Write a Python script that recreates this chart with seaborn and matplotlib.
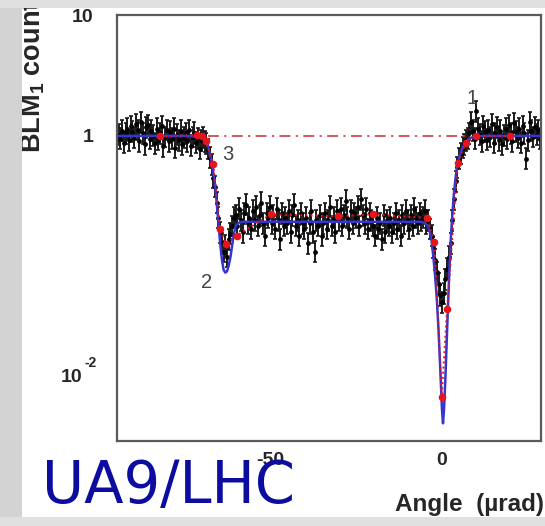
import numpy as np
import pandas as pd
import matplotlib
matplotlib.use("Agg")
import matplotlib.pyplot as plt
from matplotlib.patches import Rectangle
from matplotlib.ticker import NullFormatter
import seaborn as sns

# measured BLM1 counts vs crystal angle (0.5 urad steps from -94 to 29)
angle = np.arange(-94.0, 29.01, 0.5)
counts = [
    1.02, 0.95, 1.10, 0.88, 1.05, 1.15, 0.92, 1.20, 1.08, 0.97,
    1.25, 1.12, 0.90, 1.30, 1.05, 0.85, 1.18, 1.22, 0.95, 1.10,
    1.00, 0.87, 1.15, 0.93, 1.05, 1.20, 0.82, 0.98, 1.12, 0.90,
    1.08, 0.95, 1.15, 0.80, 1.02, 0.92, 1.10, 0.85, 0.97, 1.05,
    0.90, 1.12, 0.83, 0.98, 1.06, 0.88, 0.95, 0.78, 0.92,
    # edge of volume reflection
    0.97, 0.90, 0.86, 0.78, 0.66, 0.58, 0.45, 0.38, 0.28, 0.21,
    0.16, 0.13, 0.11, 0.125, 0.10, 0.14, 0.155, 0.18, 0.21,
    # volume reflection plateau
    0.22, 0.18, 0.25, 0.20, 0.16, 0.23, 0.27, 0.19, 0.21, 0.17,
    0.24, 0.20, 0.26, 0.18, 0.22, 0.28, 0.19, 0.15, 0.23, 0.21,
    0.26, 0.19, 0.22, 0.17, 0.25, 0.20, 0.14, 0.23, 0.18, 0.21,
    0.19, 0.24, 0.16, 0.22, 0.27, 0.18, 0.20, 0.15, 0.23, 0.19,
    0.17, 0.21, 0.13, 0.19, 0.24, 0.16, 0.11, 0.20, 0.18, 0.22,
    0.15, 0.19, 0.23, 0.17, 0.20, 0.26, 0.18, 0.21, 0.16, 0.24,
    0.20, 0.25, 0.18, 0.22, 0.29, 0.21, 0.17, 0.24, 0.19, 0.23,
    0.21, 0.26, 0.18, 0.30, 0.22, 0.19, 0.25, 0.17, 0.23, 0.20,
    0.18, 0.15, 0.21, 0.17, 0.19, 0.14, 0.22, 0.16, 0.20, 0.18,
    0.21, 0.16, 0.19, 0.23, 0.17, 0.20, 0.15, 0.22, 0.19, 0.24,
    0.20, 0.17, 0.22, 0.18, 0.25, 0.21, 0.19, 0.23, 0.20,
    # channeling dip
    0.21, 0.24, 0.19, 0.20, 0.17, 0.15, 0.12, 0.095, 0.075, 0.06,
    0.048, 0.042, 0.05, 0.065, 0.08, 0.10, 0.13, 0.20, 0.30, 0.42,
    0.55, 0.65, 0.72, 0.80, 0.85, 0.92, 0.95, 1.05,
    # amorphous orientation again
    1.30, 1.10, 0.95, 1.60, 1.15, 1.02, 0.90, 1.20, 1.08, 0.93,
    1.12, 0.98, 1.25, 0.88, 1.05, 1.18, 0.92, 1.10, 0.85, 1.00,
    1.15, 0.95, 1.22, 1.05, 0.90, 1.28, 1.08, 0.97, 1.15, 0.88,
    1.20, 1.05, 0.65, 0.92, 1.30, 1.10, 0.98, 1.18, 1.02, 1.12,
    0.95, 1.08,
]
rel_err = 0.22

# fitted curve (blue)
fit_angle = [-94, -75, -72, -70, -69, -68, -67, -66, -65.5, -65, -64.5, -64,
             -63.5, -63, -62.5, -62, -61.5, -61, -60.5, -60, -59, -58, -40,
             -20, -6, -5, -4, -3.5, -3, -2.5, -2, -1.5, -1, -0.5, 0, 0.3, 0.6,
             1, 1.5, 2, 2.5, 3, 3.5, 4, 4.5, 5, 6, 7, 8, 10, 12, 29]
fit_counts = [1.0, 1.0, 0.99, 0.97, 0.92, 0.82, 0.62, 0.40, 0.28, 0.19, 0.13,
              0.095, 0.078, 0.074, 0.076, 0.085, 0.10, 0.125, 0.155, 0.18,
              0.192, 0.195, 0.195, 0.195, 0.195, 0.19, 0.18, 0.16, 0.135,
              0.10, 0.07, 0.045, 0.025, 0.012, 0.0055, 0.0042, 0.0055, 0.010,
              0.025, 0.06, 0.13, 0.22, 0.34, 0.46, 0.57, 0.67, 0.80, 0.90,
              0.96, 0.99, 1.0, 1.0]

# simulation (red)
sim_angle = [-82, -71.3, -69.9, -68.6, -66.5, -64.5, -62.8, -59.7, -49.8,
             -30.1, -20.1, -4.3, -2.2, -0.1, 1.5, 4.6, 7.0, 9.8, 19.8]
sim_counts = [0.99, 1.02, 1.0, 0.9, 0.59, 0.17, 0.128, 0.15, 0.224, 0.217,
              0.225, 0.21, 0.132, 0.007, 0.037, 0.6, 0.88, 1.0, 1.0]

# amorphous reference level
ref_angle = [-68, 8]
ref_counts = [1, 1]

sns.set_style("white")
plt.rcParams["font.family"] = ["Liberation Sans", "DejaVu Sans"]
plt.rcParams["mathtext.fontset"] = "custom"
plt.rcParams["mathtext.rm"] = "Liberation Sans"
plt.rcParams["mathtext.bf"] = "Liberation Sans:bold"
plt.rcParams["mathtext.default"] = "bf"

fig = plt.figure(figsize=(5.45, 5.26), dpi=100, facecolor="white")
ax = fig.add_axes([117 / 545, 85 / 526, 424 / 545, 426 / 526])
ax.set_yscale("log")

df = pd.DataFrame({"angle": angle, "counts": counts})
c = df["counts"].to_numpy()
ax.errorbar(df["angle"], c, yerr=[c - c / (1 + rel_err), c * rel_err],
            fmt="none", ecolor="#1a1a1a", elinewidth=1.4, capsize=1.6,
            capthick=1.2, zorder=2)
sns.scatterplot(data=df, x="angle", y="counts", color="black", s=12,
                linewidth=0, ax=ax, zorder=2)

ax.plot(ref_angle, ref_counts, color="#d24b4b", lw=1.3,
        dashes=(6, 3, 1.2, 3), zorder=3)
sns.lineplot(x=fit_angle, y=fit_counts, sort=False, estimator=None,
             color="#3535cf", lw=1.8, ax=ax, zorder=4)
ax.plot(sim_angle, sim_counts, color="#e8141c", lw=1.4, ls=":", zorder=5)
sns.scatterplot(x=sim_angle, y=sim_counts, color="#e8141c", s=30,
                linewidth=0, ax=ax, zorder=6)

ax.set_xlim(-94.5, 28.8)
ax.set_ylim(0.003, 10)
ax.set_xlabel("")
ax.set_ylabel("")

ax.set_xticks([-50, 0])
ax.set_xticklabels(["-50", "0"])
ax.set_xticks(np.arange(-90, 30, 10), minor=True)
ax.set_yticks([0.01, 1, 10])
ax.set_yticklabels(["", "1", "10"])
ax.set_yticks([0.005, 0.05, 0.1, 0.5, 5], minor=True)
ax.yaxis.set_minor_formatter(NullFormatter())

ax.tick_params(axis="both", which="both", direction="in", top=False,
               right=False, color="#808080")
ax.tick_params(axis="y", which="major", length=10, width=1.2, pad=17,
               labelsize=14)
ax.tick_params(axis="y", which="minor", length=6, width=1.2)
ax.tick_params(axis="x", which="major", length=8, width=1.2, pad=8,
               labelsize=14)
ax.tick_params(axis="x", which="minor", length=5.5, width=1.2)
for lab in ax.get_xticklabels() + ax.get_yticklabels():
    lab.set_fontweight("bold")
for sp in ax.spines.values():
    sp.set_color("#5a5a5a")
    sp.set_linewidth(1.6)

# 10^-2 label written by hand, ROOT style
ytr = ax.get_yaxis_transform()
ax.text(-0.081, 0.01, "10", transform=ytr, ha="right", va="center",
        fontsize=14, fontweight="bold", clip_on=False)
ax.text(-0.047, 0.0133, "-2", transform=ytr, ha="right", va="center",
        fontsize=10, fontweight="bold", clip_on=False)

# curve labels
ax.text(8.7, 2.05, "1", fontsize=14.5, color="#444444", ha="center", va="center")
ax.text(-68.4, 0.061, "2", fontsize=14.5, color="#444444", ha="center", va="center")
ax.text(-62.2, 0.70, "3", fontsize=14.5, color="#444444", ha="center", va="center")

fig.text(33 / 545, 1 - 153 / 526, "BLM$_1$ count", rotation=90, ha="center",
         va="bottom", fontsize=19.5, fontweight="bold", zorder=5)
fig.text(0.998, 1 - 511 / 526, "Angle  (µrad)", ha="right", va="baseline",
         fontsize=17.5, fontweight="bold", zorder=5)
fig.text(42 / 545, 1 - 503 / 526, "UA9/LHC", family="DejaVu Sans",
         fontsize=41.5, color="#0c0ca0", va="baseline", zorder=6)

# grey slide border around the white area
fig.add_artist(Rectangle((0, 0), 22 / 545, 1, transform=fig.transFigure,
                         facecolor="#d3d3d3", edgecolor="none", zorder=20))
fig.add_artist(Rectangle((0, 1 - 8 / 526), 1, 8 / 526, transform=fig.transFigure,
                         facecolor="#e0e0e0", edgecolor="none", zorder=20))
fig.add_artist(Rectangle((0, 0), 1, 9 / 526, transform=fig.transFigure,
                         facecolor="#e0e0e0", edgecolor="none", zorder=20))

fig.savefig("out.png", dpi=100)
